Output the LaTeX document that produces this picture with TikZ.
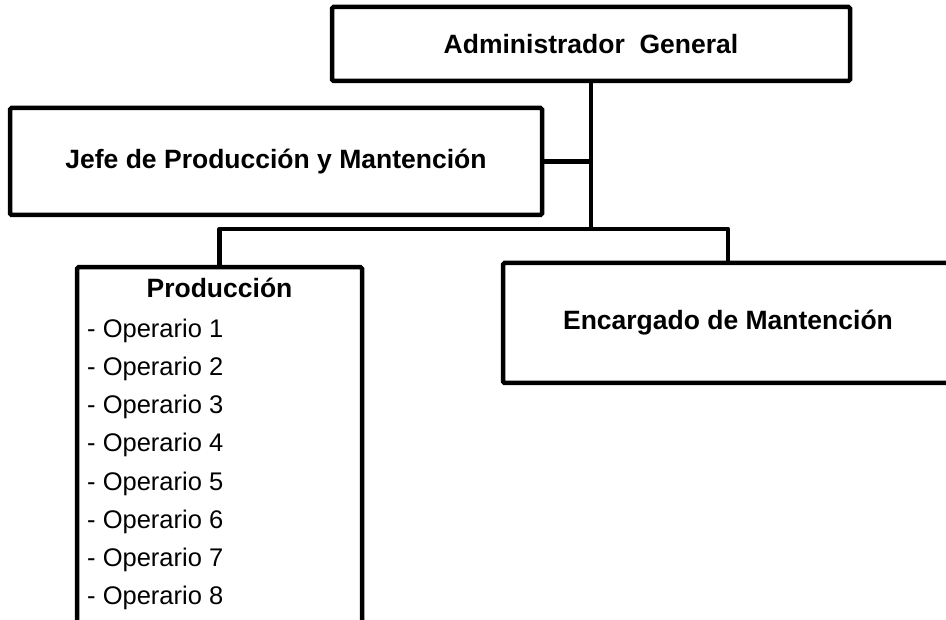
\documentclass[tikz,border=0pt]{standalone}
\usepackage{fontspec}
\setmainfont{Liberation Sans}
\begin{document}
\begin{tikzpicture}[x=1pt,y=-1pt,
  box/.style={draw=black,line width=4.5pt,rounded corners=1.5pt,rectangle,inner sep=0pt,fill=white},
  title/.style={inner sep=0pt,font=\fontsize{26.5}{30}\selectfont\bfseries},
  item/.style={inner sep=0pt,anchor=base west,font=\fontsize{25.5}{30}\selectfont},
  conn/.style={draw=black,line width=4.5pt,line join=round}]
\useasboundingbox (0,0) rectangle (946,620);
\clip (0,0) rectangle (946,620);
\fill[white] (0,0) rectangle (946,620);
\coordinate (bus) at (591,229);
\node[box,minimum width=518pt,minimum height=74pt] (admin) at (591,44) {};
\node[box,minimum width=532pt,minimum height=107pt] (jefe) at (276,161.5) {};
\node[box,minimum width=285pt,minimum height=420pt,anchor=north] (prod) at (219.5,265) {};
\node[box,minimum width=450pt,minimum height=120pt] (enc) at (728,323) {};
\draw[conn] (admin.south) -- (bus);
\draw[conn] (jefe.east) -- (jefe.east -| bus);
\draw[conn] (prod.north) |- (bus) -| (enc.north);
\node[title] (tadmin) at (admin.center) {Administrador\ \ General};
\node[title] (tjefe) at (jefe.center) {Jefe de Producción y Mantención};
\node[title] (tenc) at (enc.center) {Encargado de Mantención};
\node[title,anchor=base] (tprod) at (219.5,298) {Producción};
\foreach \i in {1,...,8}{
  \node[item] (op\i) at (87,{338+38*(\i-1)}) {- Operario \i};
}
\end{tikzpicture}
\end{document}
